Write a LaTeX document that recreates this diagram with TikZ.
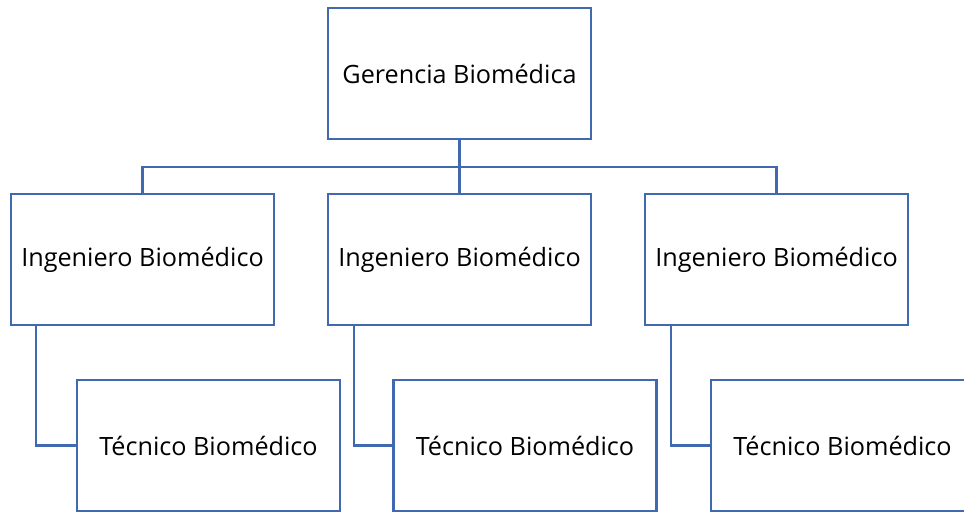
\documentclass[tikz,border=0pt]{standalone}
\usepackage{fontspec}
\setmainfont{Open Sans}

\tikzset{
  caja/.style={draw=azulorg, line width=2.4pt, fill=white, minimum width=263pt, minimum height=131pt, inner sep=0pt, font=\fontsize{25.2}{29}\selectfont},
  linea/.style={draw=azulorg, line width=2.4pt}
}
\definecolor{azulorg}{HTML}{4169B0}

\begin{document}
\begin{tikzpicture}[x=1pt,y=1pt]
  \useasboundingbox (0,0) rectangle (964,-512);
  \clip (0,0) rectangle (964,-512);
  \node[caja] (gerencia) at (459.5,-73.5) {Gerencia Biomédica};
  \node[caja] (ing1) at (142.5,-259.5) {Ingeniero Biomédico};
  \node[caja] (ing2) at (459.5,-259.5) {Ingeniero Biomédico};
  \node[caja] (ing3) at (776.5,-259.5) {Ingeniero Biomédico};
  \node[caja] (tec1) at (208.5,-445.5) {Técnico Biomédico};
  \node[caja] (tec2) at (525,-445.5) {Técnico Biomédico};
  \node[caja] (tec3) at (842.5,-445.5) {Técnico Biomédico};
  % barra de la gerencia
  \coordinate (barra) at (459.5,-167);
  \draw[linea] (gerencia.south) -- (ing2.north);
  \draw[linea] (ing1.north) |- (barra) -| (ing3.north);
  % ingenieros a tecnicos
  \draw[linea] ([xshift=26pt]ing1.south west) |- (tec1.west);
  \draw[linea] ([xshift=27pt]ing2.south west) |- (tec2.west);
  \draw[linea] ([xshift=27pt]ing3.south west) |- (tec3.west);
\end{tikzpicture}
\end{document}
